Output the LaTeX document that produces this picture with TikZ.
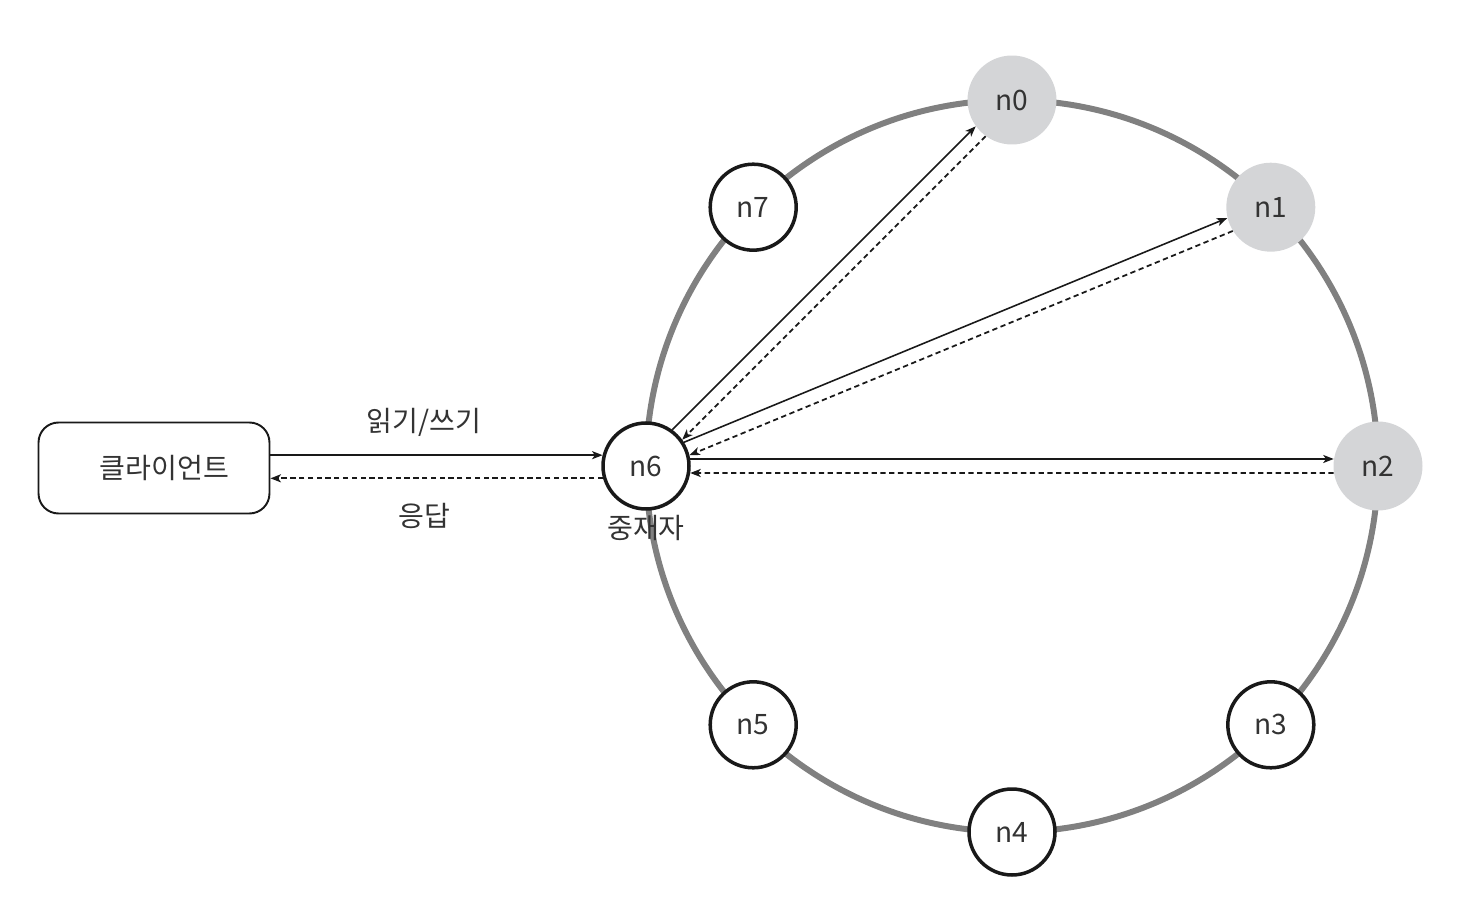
\documentclass[tikz,border=0pt]{standalone}
\usepackage{fontspec}
\setmainfont{Noto Sans CJK KR}
\usepackage{xcolor}
\usetikzlibrary{arrows.meta,positioning}
\definecolor{ringgray}{RGB}{128,128,128}
\definecolor{nodegray}{RGB}{212,213,215}

\begin{document}
\begin{tikzpicture}[x=0.02cm,y=-0.02cm,>={Stealth[length=6pt,width=4.6pt,inset=1.6pt]},
	font=\fontsize{16}{19}\selectfont,text=black!80,
	main node/.style={circle,draw=black!90,line width=2pt,fill=white,minimum size=1.72cm,inner sep=0pt},
	rep node/.style={circle,fill=nodegray,minimum size=1.78cm,inner sep=0pt},
	req/.style={->,line width=0.9pt,draw=black!90},
	resp/.style={->,line width=1pt,draw=black!90,dash pattern=on 3pt off 2pt}]

	\useasboundingbox (0,0) rectangle (1474,918);
	\draw[ringgray,line width=3.4pt] (1012,466) circle (7.32cm);

	\foreach \i/\x/\y in {0/1012/100,1/1270.8/207.2,2/1378/466}
		\node[rep node] (n\i) at (\x,\y) {n\i};
	\foreach \i/\x/\y in {3/1270.8/724.8,4/1012/832,5/753.2/724.8,6/646/466,7/753.2/207.2}
		\node[main node] (n\i) at (\x,\y) {n\i};
	\node (med) [below=-1pt of n6] {중재자};

	\node[draw=black!90,line width=1.1pt,rounded corners=0.4cm,minimum width=4.62cm,minimum height=1.82cm] (client) at (154,468) {\hspace{12pt}클라이언트};
	\node (rw) at (424,422) {읽기/쓰기};
	\node (ans) at (424,516) {응답};

	\draw[req] (n6.166 -| client.east) -- (n6.166);
	\draw[resp] (n6.196) -- (n6.196 -| client.east);

	\draw[req] (n6.54) -- (n0.216);
	\draw[resp] (n0.234) -- (n6.36);
	\draw[req] (n6.32) -- (n1.194);
	\draw[resp] (n1.212) -- (n6.14);
	\draw[req] (n6.9) -- (n2.171);
	\draw[resp] (n2.189) -- (n6.351);
\end{tikzpicture}
\end{document}
